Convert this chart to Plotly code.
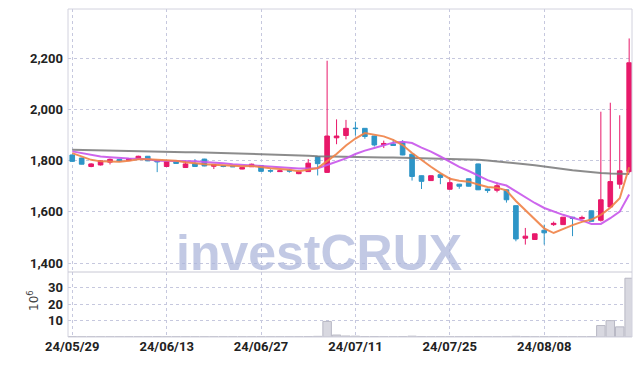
import plotly.graph_objects as go
import pandas as pd

dates = ["24/05/29", "24/05/30", "24/05/31", "24/06/03", "24/06/04", "24/06/05", "24/06/07",
         "24/06/10", "24/06/11", "24/06/12", "24/06/13", "24/06/14", "24/06/17", "24/06/18",
         "24/06/19", "24/06/20", "24/06/21", "24/06/24", "24/06/25", "24/06/26", "24/06/27",
         "24/06/28", "24/07/01", "24/07/02", "24/07/03", "24/07/04", "24/07/05", "24/07/08",
         "24/07/09", "24/07/10", "24/07/11", "24/07/12", "24/07/15", "24/07/16", "24/07/17",
         "24/07/18", "24/07/19", "24/07/22", "24/07/23", "24/07/24", "24/07/25", "24/07/26",
         "24/07/29", "24/07/30", "24/07/31", "24/08/01", "24/08/02", "24/08/05", "24/08/06",
         "24/08/07", "24/08/08", "24/08/09", "24/08/12", "24/08/13", "24/08/14", "24/08/16",
         "24/08/19", "24/08/20", "24/08/21", "24/08/22"]

open_ = [1822, 1810, 1777, 1783, 1794, 1805, 1800, 1807, 1817, 1800,
         1777, 1795, 1773, 1788, 1806, 1778, 1780, 1778, 1767, 1776,
         1781, 1761, 1757, 1761, 1749, 1757, 1815, 1754, 1889, 1898,
         1927, 1926, 1896, 1862, 1865, 1872, 1825, 1741, 1722, 1745,
         1688, 1708, 1729, 1787, 1689, 1684, 1686, 1624, 1497, 1492,
         1528, 1550, 1550, 1579, 1573, 1604, 1567, 1619, 1708, 1757]
high = [1824, 1811, 1790, 1801, 1808, 1806, 1809, 1819, 1818, 1801,
        1797, 1797, 1800, 1806, 1807, 1786, 1781, 1779, 1775, 1788,
        1782, 1766, 1761, 1766, 1762, 1806, 1816, 2190, 1961, 1959,
        1952, 1927, 1897, 1878, 1882, 1880, 1826, 1742, 1742, 1746,
        1735, 1709, 1730, 1788, 1690, 1715, 1687, 1625, 1537, 1515,
        1550, 1562, 1580, 1580, 1585, 1605, 1991, 2026, 1977, 2277]
low = [1795, 1785, 1774, 1781, 1785, 1797, 1798, 1803, 1798, 1755,
       1776, 1787, 1772, 1776, 1778, 1767, 1774, 1775, 1766, 1775,
       1757, 1753, 1756, 1753, 1747, 1756, 1742, 1752, 1864, 1883,
       1898, 1885, 1855, 1849, 1858, 1821, 1722, 1689, 1721, 1708,
       1687, 1690, 1699, 1685, 1674, 1676, 1636, 1485, 1472, 1491,
       1472, 1545, 1549, 1505, 1570, 1562, 1562, 1617, 1690, 1750]
close = [1797, 1786, 1787, 1799, 1805, 1799, 1807, 1817, 1799, 1795,
         1796, 1789, 1787, 1777, 1779, 1785, 1777, 1776, 1773, 1786,
         1758, 1759, 1760, 1759, 1757, 1790, 1788, 1896, 1896, 1926,
         1925, 1894, 1861, 1867, 1859, 1822, 1738, 1719, 1741, 1734,
         1714, 1700, 1700, 1686, 1683, 1702, 1647, 1494, 1505, 1514,
         1518, 1555, 1579, 1574, 1578, 1563, 1647, 1718, 1760, 2182]
volume = [0.3, 0.2, 0.2, 0.2, 0.2, 0.2, 0.2, 0.2, 0.2, 0.3,
          0.2, 0.2, 0.2, 0.2, 0.2, 0.2, 0.2, 0.2, 0.2, 0.2,
          0.2, 0.2, 0.2, 0.2, 0.2, 0.3, 0.4, 9.5, 1.2, 0.6,
          0.5, 0.3, 0.3, 0.2, 0.2, 0.3, 0.5, 0.3, 0.2, 0.2,
          0.2, 0.2, 0.2, 0.3, 0.2, 0.2, 0.2, 0.4, 0.3, 0.2,
          0.2, 0.2, 0.2, 0.2, 0.2, 0.3, 7.0, 10.0, 6.2, 35.9]
ma60 = [1842, 1841, 1841, 1840, 1839, 1839, 1838, 1837, 1836, 1836,
        1835, 1834, 1833, 1833, 1832, 1831, 1830, 1830, 1829, 1828,
        1827, 1825, 1824, 1822, 1820, 1819, 1817, 1816, 1815, 1814,
        1813, 1813, 1812, 1812, 1812, 1811, 1811, 1810, 1810, 1809,
        1808, 1807, 1805, 1803, 1800, 1797, 1794, 1790, 1786, 1782,
        1778, 1773, 1767, 1762, 1758, 1755, 1752, 1750, 1749, 1748]
ma5_head = [1829, 1816, 1803, 1797]
ma10_head = [1836, 1829, 1822, 1816, 1813, 1810, 1808, 1807, 1805]

price_ticks = [1400, 1600, 1800, 2000, 2200]
vol_ticks = [10, 20, 30]
date_ticks = dates[::10]

cs = pd.Series(close, dtype=float)
ma5 = cs.rolling(5).mean().tolist()
ma5[:len(ma5_head)] = ma5_head
ma10 = cs.rolling(10).mean().tolist()
ma10[:len(ma10_head)] = ma10_head

PINK = "#e8196a"
BLUE = "#2e95c7"
GRID = "#c6c8de"
TICKFONT = dict(family="Roboto, Liberation Sans, sans-serif",
                size=13, color="#222222", weight="bold")

fig = go.Figure()
fig.add_trace(go.Candlestick(
    x=dates, open=open_, high=high, low=low, close=close,
    xaxis="x", yaxis="y",
    increasing=dict(line=dict(color=PINK, width=1), fillcolor=PINK),
    decreasing=dict(line=dict(color=BLUE, width=1), fillcolor=BLUE),
    whiskerwidth=0, hoverinfo="skip"))
fig.add_trace(go.Scatter(x=dates, y=ma60, mode="lines", xaxis="x", yaxis="y",
                         line=dict(color="rgba(120,120,120,0.85)", width=2), hoverinfo="skip"))
fig.add_trace(go.Scatter(x=dates, y=ma10, mode="lines", xaxis="x", yaxis="y",
                         line=dict(color="rgba(200,85,235,0.9)", width=2), hoverinfo="skip"))
fig.add_trace(go.Scatter(x=dates, y=ma5, mode="lines", xaxis="x", yaxis="y",
                         line=dict(color="rgba(240,130,70,0.9)", width=2), hoverinfo="skip"))
fig.add_trace(go.Bar(x=dates, y=volume, xaxis="x2", yaxis="y2", width=0.9,
                     marker=dict(color="#d8d8e0", line=dict(color="#b8b8c4", width=1)),
                     hoverinfo="skip"))

xcommon = dict(type="category", range=[-0.45, 59.3], showgrid=True, gridcolor=GRID,
               griddash="dot", gridwidth=1, tickmode="array", tickvals=date_ticks,
               ticktext=date_ticks, showline=False, zeroline=False, ticks="")
VOL_FRAC = 65 / 328

fig.update_layout(
    width=642, height=366,
    margin=dict(l=68, r=10, t=9, b=29),
    paper_bgcolor="white", plot_bgcolor="white",
    showlegend=False,
    xaxis=dict(**xcommon, anchor="y", domain=[0, 1], showticklabels=False,
               rangeslider=dict(visible=False)),
    xaxis2=dict(**xcommon, anchor="y2", domain=[0, 1], showticklabels=True,
                tickfont=TICKFONT),
    yaxis=dict(domain=[VOL_FRAC, 1], range=[1365, 2392], tickvals=price_ticks,
               tickformat=",", showgrid=True, gridcolor=GRID, griddash="dot",
               zeroline=False, tickfont=TICKFONT, ticks="", ticklabelstandoff=4),
    yaxis2=dict(domain=[0, VOL_FRAC], range=[0, 39.7], tickvals=vol_ticks,
                showgrid=True, gridcolor=GRID, griddash="dot", zeroline=False,
                tickfont=TICKFONT, ticks="", ticklabelstandoff=4),
    shapes=[
        dict(type="rect", xref="paper", yref="paper", x0=0, x1=1, y0=0, y1=1,
             line=dict(color="#d2d2de", width=1)),
        dict(type="line", xref="paper", yref="paper", x0=0, x1=1, y0=VOL_FRAC, y1=VOL_FRAC,
             line=dict(color="#c8c8d4", width=1)),
    ],
    annotations=[
        dict(text="investCRUX", xref="paper", yref="paper", x=(319 - 68) / 564,
             y=(337 - 283) / 328, xanchor="center", yanchor="bottom", showarrow=False,
             font=dict(family="Liberation Sans, Arial, sans-serif", size=50,
                       color="rgba(170,180,218,0.72)", weight="bold")),
        dict(text="10<sup>6</sup>", xref="paper", yref="paper", x=(33 - 68) / 564,
             y=(337 - 301) / 328, xanchor="center", yanchor="middle", showarrow=False,
             textangle=-90, font=dict(family="DejaVu Sans, sans-serif", size=12,
                                      color="#444444")),
    ],
)

fig.write_html("out.html")
